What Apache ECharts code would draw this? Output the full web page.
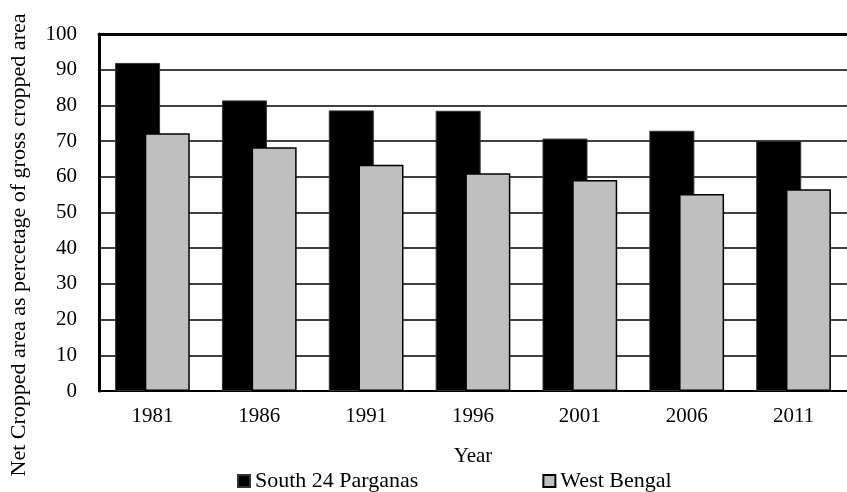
<!DOCTYPE html>
<html>
<head>
<meta charset="utf-8">
<script src="https://cdn.jsdelivr.net/npm/echarts@6/dist/echarts.min.js"></script>
<style>
  html, body { margin: 0; padding: 0; background: #fff; }
  #main { width: 847px; height: 492px; }
</style>
</head>
<body>
<div id="main"></div>
<script>
// data
var years = ['1981', '1986', '1991', '1996', '2001', '2006', '2011']
var south24 = [91.9, 81.4, 78.6, 78.5, 70.7, 72.9, 70.1]
var westBengal = [72.2, 68.3, 63.4, 61.0, 59.1, 55.2, 56.5]
var yTicks = { min: 0, max: 100, interval: 10 }

var serif = 'Liberation Serif'
var chart = echarts.init(document.getElementById('main'))

var option = {
  backgroundColor: '#fff',
  animation: false,
  textStyle: { fontFamily: serif, color: '#000' },
  grid: { left: 99, right: -8, top: 34, bottom: 101 },
  legend: {
    top: 465,
    left: 232,
    itemWidth: 12,
    itemHeight: 12,
    itemGap: 124,
    icon: 'rect',
    textStyle: { fontFamily: serif, fontSize: 22, color: '#000' },
    data: ['South 24 Parganas', 'West Bengal'],
  },
  graphic: [
    {
      type: 'text',
      x: 19,
      y: 245,
      rotation: Math.PI / 2,
      style: {
        text: 'Net Cropped area as percetage of gross cropped area',
        font: '22px "Liberation Serif"',
        fill: '#000',
        align: 'center',
        verticalAlign: 'middle',
      },
    },
  ],
  xAxis: [
    {
      type: 'category',
      data: years,
      name: 'Year',
      nameLocation: 'middle',
      nameGap: 55,
      nameTextStyle: { fontFamily: serif, fontSize: 21, color: '#000' },
      axisLine: { lineStyle: { color: '#000', width: 2 } },
      axisTick: { show: false },
      axisLabel: { fontFamily: serif, fontSize: 21, color: '#000', margin: 15 },
    },
    {
      // top border of the plot
      type: 'category',
      position: 'top',
      data: years,
      axisLine: { lineStyle: { color: '#000', width: 3 } },
      axisTick: { show: false },
      axisLabel: { show: false },
    },
  ],
  yAxis: {
    type: 'value',
    min: yTicks.min,
    max: yTicks.max,
    interval: yTicks.interval,
    axisLine: { show: true, lineStyle: { color: '#000', width: 3 } },
    axisTick: { show: false },
    axisLabel: { fontFamily: serif, fontSize: 21, color: '#000', margin: 22 },
    splitLine: { lineStyle: { color: '#000', width: 1.5 } },
  },
  series: [
    {
      name: 'South 24 Parganas',
      type: 'bar',
      data: south24,
      barWidth: 45,
      barGap: '-34%',
      itemStyle: { color: '#000', borderColor: '#333', borderWidth: 1 },
    },
    {
      name: 'West Bengal',
      type: 'bar',
      data: westBengal,
      barWidth: 45,
      itemStyle: { color: '#bfbfbf', borderColor: '#000', borderWidth: 1.5 },
    },
  ],
}
chart.setOption(option)
</script>
</body>
</html>
